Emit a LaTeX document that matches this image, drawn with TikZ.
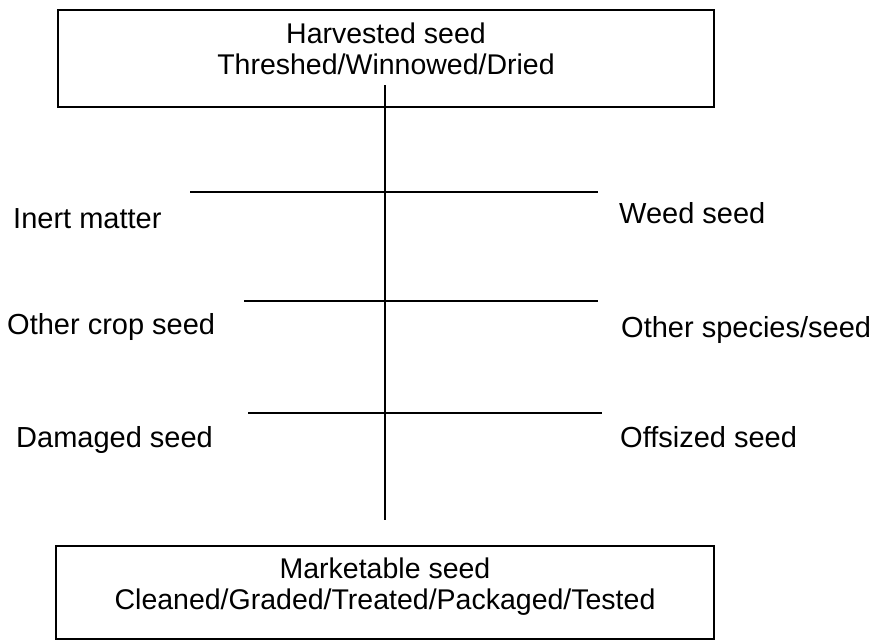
\documentclass[tikz,border=0pt]{standalone}
\usepackage{fontspec}
\setmainfont{Liberation Sans}
\usetikzlibrary{positioning}

\begin{document}
\begin{tikzpicture}[x=1pt, y=-1pt,
    stage/.style={rectangle, draw=black, line width=2pt, minimum width=656pt,
                  minimum height=97pt, inner sep=0pt},
    boxtext/.style={align=center, inner sep=0pt, font=\fontsize{28.5}{31}\selectfont},
    side/.style={anchor=base west, inner sep=0pt, font=\fontsize{29}{30}\selectfont},
    branch/.style={line width=1.6pt}]

    \useasboundingbox (0,0) rectangle (879,640);

    % Boxes
    \node[stage] (harvest) at (386,58.5) {};
    \node[boxtext, below=14pt of harvest.north] (harvesttext) {Harvested seed\\Threshed/Winnowed/Dried};
    \node[stage, minimum width=658pt, minimum height=93pt] (market) at (385,592.5) {};
    \node[boxtext, below=13pt of market.north] (markettext) {Marketable seed\\Cleaned/Graded/Treated/Packaged/Tested};

    % Trunk
    \coordinate (trunktop) at (385,85);
    \coordinate (trunkend) at (385,520);
    \draw[branch] (trunktop) -- (trunkend);

    % Branches
    \coordinate (inertend) at (190,192);
    \coordinate (weedend) at (598,192);
    \coordinate (cropend) at (244,301);
    \coordinate (speciesend) at (598,301);
    \coordinate (damagedend) at (248,413);
    \coordinate (offsizedend) at (602,413);
    \draw[branch] (inertend) -- (weedend);
    \draw[branch] (cropend) -- (speciesend);
    \draw[branch] (damagedend) -- (offsizedend);

    % Labels
    \node[side] (inert) at (13,228) {Inert matter};
    \node[side] (weed) at (619,223) {Weed seed};
    \node[side] (crop) at (7,334) {Other crop seed};
    \node[side] (species) at (621,337) {Other species/seed};
    \node[side] (damaged) at (16,447) {Damaged seed};
    \node[side] (offsized) at (620,447) {Offsized seed};

\end{tikzpicture}
\end{document}
